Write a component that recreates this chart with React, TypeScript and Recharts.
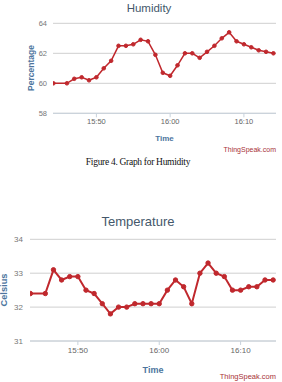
import React from "react";
import { LineChart, Line, XAxis, YAxis, CartesianGrid, Label } from "recharts";

// sample times (same for both feeds)
const times = [
  "15:44:10", "15:46", "15:47", "15:48", "15:49", "15:50", "15:51", "15:52", "15:53", "15:54",
  "15:55", "15:56", "15:57", "15:58", "15:59", "16:00", "16:01", "16:02", "16:03", "16:04",
  "16:05", "16:06", "16:07", "16:08", "16:09", "16:10", "16:11", "16:12", "16:13", "16:14",
];
const humidity = [
  60.0, 60.0, 60.3, 60.4, 60.2, 60.4, 61.0, 61.5, 62.5, 62.5,
  62.6, 62.9, 62.8, 61.9, 60.7, 60.5, 61.2, 62.0, 62.0, 61.7,
  62.1, 62.5, 63.0, 63.4, 62.8, 62.6, 62.4, 62.2, 62.1, 62.0,
];
const temperature = [
  32.4, 32.4, 33.1, 32.8, 32.9, 32.9, 32.5, 32.4, 32.1, 31.8,
  32.0, 32.0, 32.1, 32.1, 32.1, 32.1, 32.5, 32.8, 32.6, 32.1,
  33.0, 33.3, 33.0, 32.9, 32.5, 32.5, 32.6, 32.6, 32.8, 32.8,
];
const timeTicks = ["15:50", "16:00", "16:10"];
const humidityTicks = [58, 60, 62, 64];
const temperatureTicks = [31, 32, 33, 34];

function toMinutes(s: string) {
  const p = s.split(":").map(Number);
  return p[0] * 60 + p[1] + (p[2] || 0) / 60;
}
function fmt(m: number) {
  const h = Math.floor(m / 60);
  const mm = Math.round(m - h * 60);
  return h + ":" + String(mm).padStart(2, "0");
}

const humData = times.map((t, i) => ({ t: toMinutes(t), v: humidity[i] }));
const tempData = times.map((t, i) => ({ t: toMinutes(t), v: temperature[i] }));
const xTicks = timeTicks.map(toMinutes);
const xDomain = [toMinutes("15:44:10") - 0.05, toMinutes("16:14") + 0.35];

const FONT = "'Liberation Sans', Arial, sans-serif";
const RED = "#c0282d";
const AXIS_TITLE = "#4d759e";

const App = () => (
  <div style={{ position: "absolute", left: 0, top: 0, width: 282, height: 382, overflow: "hidden", background: "#fff", fontFamily: FONT }}>
    {/* Humidity */}
    <div style={{ position: "absolute", left: 0, top: 2, width: 298, textAlign: "center", fontSize: 11.5, color: "#44586b" }}>Humidity</div>
    <div style={{ position: "absolute", left: 0, top: 0 }}>
      <LineChart width={282} height={145} data={humData} margin={{ top: 23.3, right: 6, bottom: 0, left: 0 }}>
        <CartesianGrid vertical={false} stroke="#cfcfcf" />
        <XAxis dataKey="t" type="number" domain={xDomain} ticks={xTicks} tickFormatter={fmt} height={31.7}
          allowDataOverflow tick={{ fontSize: 7.5, fill: "#666", fontFamily: FONT }} tickSize={4} tickMargin={1}
          stroke="#c8d2dc">
          <Label value="Time" position="insideBottom" offset={4} fill={AXIS_TITLE} fontSize={8} fontWeight="bold" fontFamily={FONT} />
        </XAxis>
        <YAxis domain={[58, 64]} ticks={humidityTicks} width={53} axisLine={false} tickLine={false}
          tickSize={4} tickMargin={2} tick={{ fontSize: 7.5, fill: "#777", fontFamily: FONT }}>
          <Label content={() => (
            <text x={31} y={68} transform="rotate(-90 31 68)" textAnchor="middle" dominantBaseline="central"
              fill={AXIS_TITLE} fontSize={8.5} fontWeight="bold" fontFamily={FONT}>Percentage</text>
          )} />
        </YAxis>
        <Line dataKey="v" stroke={RED} strokeWidth={1.5} dot={{ r: 1.8, fill: RED, stroke: RED, strokeWidth: 1 }}
          isAnimationActive={false} />
      </LineChart>
    </div>
    <div style={{ position: "absolute", left: 200, top: 146, width: 76, textAlign: "right", fontSize: 7, color: "#a83238" }}>ThingSpeak.com</div>
    <div style={{ position: "absolute", left: 0, top: 157, width: 276, textAlign: "center", fontSize: 9.5, color: "#111", fontFamily: "'Liberation Serif', 'Times New Roman', serif", letterSpacing: -0.3 }}>
      Figure 4. Graph for Humidity
    </div>

    {/* Temperature */}
    <div style={{ position: "absolute", left: 0, top: 214, width: 276, textAlign: "center", fontSize: 13, color: "#44586b" }}>Temperature</div>
    <div style={{ position: "absolute", left: 0, top: 205 }}>
      <LineChart width={282} height={177} data={tempData} margin={{ top: 34.3, right: 6, bottom: 0, left: 0 }}>
        <CartesianGrid vertical={false} stroke="#cfcfcf" />
        <XAxis dataKey="t" type="number" domain={xDomain} ticks={xTicks} tickFormatter={fmt} height={41}
          allowDataOverflow tick={{ fontSize: 8, fill: "#666", fontFamily: FONT }} tickSize={4} tickMargin={2}
          stroke="#c8d2dc">
          <Label value="Time" position="insideBottom" offset={8.8} fill={AXIS_TITLE} fontSize={9} fontWeight="bold" fontFamily={FONT} />
        </XAxis>
        <YAxis domain={[31, 34]} ticks={temperatureTicks} width={30} axisLine={false} tickLine={false}
          tickSize={4} tickMargin={3} tick={{ fontSize: 8, fill: "#777", fontFamily: FONT }}>
          <Label content={() => (
            <text x={4} y={85} transform="rotate(-90 4 85)" textAnchor="middle" dominantBaseline="central"
              fill={AXIS_TITLE} fontSize={9.3} fontWeight="bold" fontFamily={FONT}>Celsius</text>
          )} />
        </YAxis>
        <Line dataKey="v" stroke={RED} strokeWidth={2} dot={{ r: 2.2, fill: RED, stroke: RED, strokeWidth: 1 }}
          isAnimationActive={false} />
      </LineChart>
    </div>
    <div style={{ position: "absolute", left: 196, top: 372, width: 80, textAlign: "right", fontSize: 7.5, color: "#a83238" }}>ThingSpeak.com</div>
  </div>
);

export default App;
